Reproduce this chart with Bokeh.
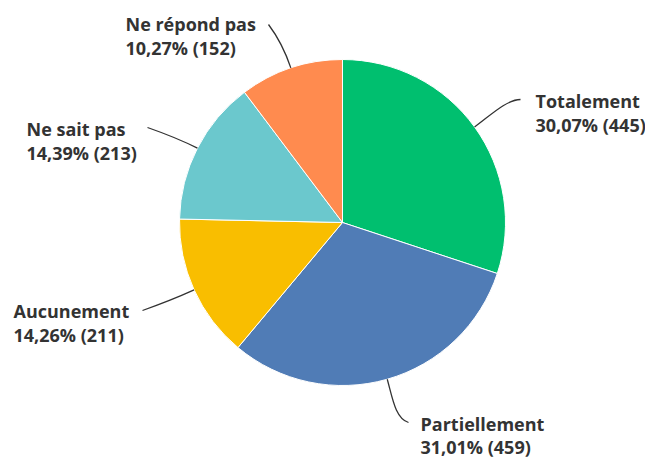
import math
from bokeh.plotting import figure
from bokeh.models import Range1d, ColumnDataSource
from bokeh.core.properties import value
from bokeh.embed import file_html
from bokeh.resources import INLINE

# ---- data ----
categories = ["Totalement", "Partiellement", "Aucunement", "Ne sait pas", "Ne répond pas"]
counts = [445, 459, 211, 213, 152]
colors = ["#00BF6F", "#507CB6", "#F9BE00", "#6BC8CD", "#FF8B4F"]

# ---- layout (screen-like coords: x right, y = -pixel row) ----
W, H = 645, 460
CX, CY, R = 342, -222, 163
# label anchor (left x, first line pixel row, line gap) and leader end point, per category
label_pos = [(535, 100, 24), (420, 423, 23), (13, 310, 24), (26, 128, 24), (125, 23, 24)]
leader_end = [(520, 99), (408, 422), (142, 310), (147, 127), (268, 24)]
leader_end_dir = [(1, 0), (1, 0.3), (-1, 0.35), (-1, -0.35), (-0.6, -0.8)]

total = sum(counts)
fracs = [c / total for c in counts]
starts, ends, mids = [], [], []
cum = 0.0
for f in fracs:
    starts.append(math.pi / 2 - 2 * math.pi * cum)
    mids.append(math.pi / 2 - 2 * math.pi * (cum + f / 2))
    cum += f
    ends.append(math.pi / 2 - 2 * math.pi * cum)

p = figure(width=W, height=H, output_backend="svg", toolbar_location=None,
           x_range=Range1d(0, W), y_range=Range1d(-H, 0),
           min_border=0, outline_line_color=None)
p.axis.visible = False
p.grid.visible = False
p.background_fill_color = "white"
p.border_fill_color = "white"

p.wedge(x=CX, y=CY, radius=R, start_angle=starts, end_angle=ends,
        direction="clock", fill_color=colors, line_color="white", line_width=1)

# leader lines
x0, y0, x1, y1, cx0, cy0, cx1, cy1 = [], [], [], [], [], [], [], []
for m, (ex, ey), (dx, dy) in zip(mids, leader_end, leader_end_dir):
    sx, sy = CX + R * math.cos(m), CY + R * math.sin(m)
    x0.append(sx); y0.append(sy)
    x1.append(ex); y1.append(-ey)
    cx0.append(sx + 18 * math.cos(m)); cy0.append(sy + 18 * math.sin(m))
    n = math.hypot(dx, dy)
    cx1.append(ex - 14 * dx / n); cy1.append(-ey + 14 * dy / n)
p.bezier(x0=x0, y0=y0, x1=x1, y1=y1, cx0=cx0, cy0=cy0, cx1=cx1, cy1=cy1,
         line_color="#333333", line_width=1.3)

# labels
tx, ty, tt = [], [], []
for cat, c, f, (lx, ly, gap) in zip(categories, counts, fracs, label_pos):
    pct = f"{f * 100:.2f}".replace(".", ",")
    tx += [lx, lx]
    ty += [-ly, -(ly + gap)]
    tt += [cat, f"{pct}% ({c})"]
src = ColumnDataSource(dict(x=tx, y=ty, text=tt))
p.text(x="x", y="y", text="text", source=src, text_font=value("Open Sans"),
       text_font_style="bold", text_font_size="18px", text_color="#333333",
       text_align="left", text_baseline="alphabetic")

open("out.html", "w").write(file_html(p, INLINE))
